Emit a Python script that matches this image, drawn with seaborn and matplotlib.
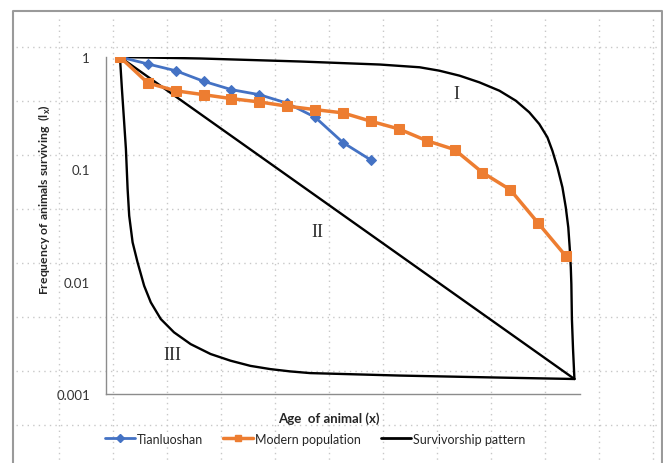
# survivorship curves: Tianluoshan vs modern population
import numpy as np
import pandas as pd
import matplotlib
matplotlib.use('Agg')
import matplotlib.pyplot as plt
from matplotlib.lines import Line2D
import seaborn as sns

# age classes (category positions on the x axis)
ages = list(range(1, 18))
# frequency of animals surviving (lx)
tianluoshan = [1.0, 0.867, 0.755, 0.608, 0.512, 0.462, 0.388, 0.291, 0.173, 0.121]
modern = [1.0, 0.587, 0.50, 0.462, 0.426, 0.398, 0.365, 0.34, 0.318, 0.268,
          0.229, 0.180, 0.150, 0.0937, 0.0658, 0.0332, 0.0168]

# idealised survivorship patterns (type I, II, III)
type1_x = [1.0, 3.89, 7.46, 10.32, 11.75, 12.46, 13.18, 13.89, 14.61, 15.2,
           15.68, 16.04, 16.33, 16.51, 16.69, 16.87, 16.99, 17.08, 17.13, 17.17,
           17.19, 17.21, 17.25, 17.3]
type1_y = [1.0, 0.970, 0.912, 0.857, 0.810, 0.755, 0.682, 0.595, 0.501, 0.408,
           0.322, 0.253, 0.193, 0.1464, 0.1042, 0.0691, 0.0459, 0.0304, 0.0202,
           0.0134, 0.00952, 0.00464, 0.00251, 0.00136]
type2_x = [1.0, 17.3]
type2_y = [1.0, 0.00136]
type3_x = [1.0, 1.071, 1.143, 1.214, 1.275, 1.332, 1.454, 1.632, 1.868, 2.107,
           2.464, 2.939, 3.536, 4.25, 4.964, 5.679, 6.393, 7.107, 7.821, 11.04,
           14.61, 17.3]
type3_y = [1.0, 0.519, 0.281, 0.152, 0.0668, 0.0386, 0.0224, 0.01486, 0.00919,
           0.00654, 0.00465, 0.00354, 0.00278, 0.00227, 0.00198, 0.00178,
           0.001666, 0.001589, 0.001535, 0.001459, 0.0014, 0.00136]
# roman numeral labels for the patterns
pattern_labels = ['I', 'II', 'III']
label_x = [13.07, 8.07, 2.89]
label_y = [0.469, 0.0277, 0.00227]

yticks = [0.001, 0.01, 0.1, 1]
ytick_labels = ['0.001', '0.01', '0.1', '1']

blue = '#4472C4'
orange = '#ED7D31'

sns.set_style('white')
plt.rcParams['font.family'] = ['Lato', 'DejaVu Sans']

fig = plt.figure(figsize=(6.63, 4.64), dpi=100)

# page-like background with dotted grid and grey frame
bg = fig.add_axes([0, 0, 1, 1], zorder=0)
bg.set_xlim(0, 663)
bg.set_ylim(464, 0)
bg.axis('off')
for gx in np.arange(59, 663, 54):
    bg.plot([gx, gx], [20, 464], color='#c8c8c8', lw=1, ls=(0, (1, 3)))
for gy in np.arange(48, 464, 54):
    bg.plot([16, 660], [gy, gy], color='#c8c8c8', lw=1, ls=(0, (1, 3)))
bg.plot([13, 13, 662, 662], [464, 12, 12, 464], color='#9a9a9a', lw=1.5)

ax = fig.add_axes([106 / 663, 1 - 395 / 464, 474 / 663, 337 / 464], zorder=1)
ax.set_facecolor('none')

df_t = pd.DataFrame({'age': ages[:len(tianluoshan)], 'lx': tianluoshan})
df_m = pd.DataFrame({'age': ages, 'lx': modern})

# survivorship patterns
for px, py in [(type1_x, type1_y), (type2_x, type2_y), (type3_x, type3_y)]:
    sns.lineplot(x=px, y=py, ax=ax, sort=False, color='black', lw=1.7,
                 estimator=None, solid_joinstyle='round')
sns.lineplot(data=df_t, x='age', y='lx', ax=ax, color=blue, lw=2, marker='D',
             markersize=5, markeredgecolor=blue, zorder=3)
sns.lineplot(data=df_m, x='age', y='lx', ax=ax, color=orange, lw=2.5, marker='s',
             markersize=7, markeredgecolor=orange, zorder=4)

for lab, lx_, ly_ in zip(pattern_labels, label_x, label_y):
    ax.text(lx_, ly_, lab, family='Liberation Serif', fontsize=13,
            ha='center', va='center', color='#303030')

ax.set_yscale('log')
ax.set_ylim(0.001, 1)
ax.set_xlim(0.5, 17.5)
ax.set_yticks(yticks)
ax.set_yticklabels(ytick_labels)
ax.minorticks_off()
ax.set_xticks([])
ax.tick_params(axis='y', length=0, pad=11.5, labelsize=9.5, labelcolor='#333333')
for side in ['top', 'right']:
    ax.spines[side].set_visible(False)
for side in ['left', 'bottom']:
    ax.spines[side].set_color('#8c8c8c')
    ax.spines[side].set_linewidth(1)

ax.set_ylabel(r'Frequency of animals surviving  (l$_\mathregular{x}$)',
              fontsize=8.8, fontweight='bold')
ax.yaxis.set_label_coords(-0.112, 0.58)
ax.set_xlabel('Age  of animal (x)', fontsize=9.5, fontweight='bold')
ax.xaxis.set_label_coords(0.47, -0.05)

handles = [Line2D([], [], color=blue, lw=2, marker='D', markersize=4),
           Line2D([], [], color=orange, lw=2.5, marker='s', markersize=5),
           Line2D([], [], color='black', lw=2)]
labels = ['Tianluoshan', 'Modern population', 'Survivorship pattern']
fig.legend(handles, labels, loc='center', bbox_to_anchor=(0.475, 0.052), ncol=3,
           frameon=False, fontsize=9, handlelength=2.4, handletextpad=0.15,
           columnspacing=1.6)

fig.savefig('out.png', dpi=100)
